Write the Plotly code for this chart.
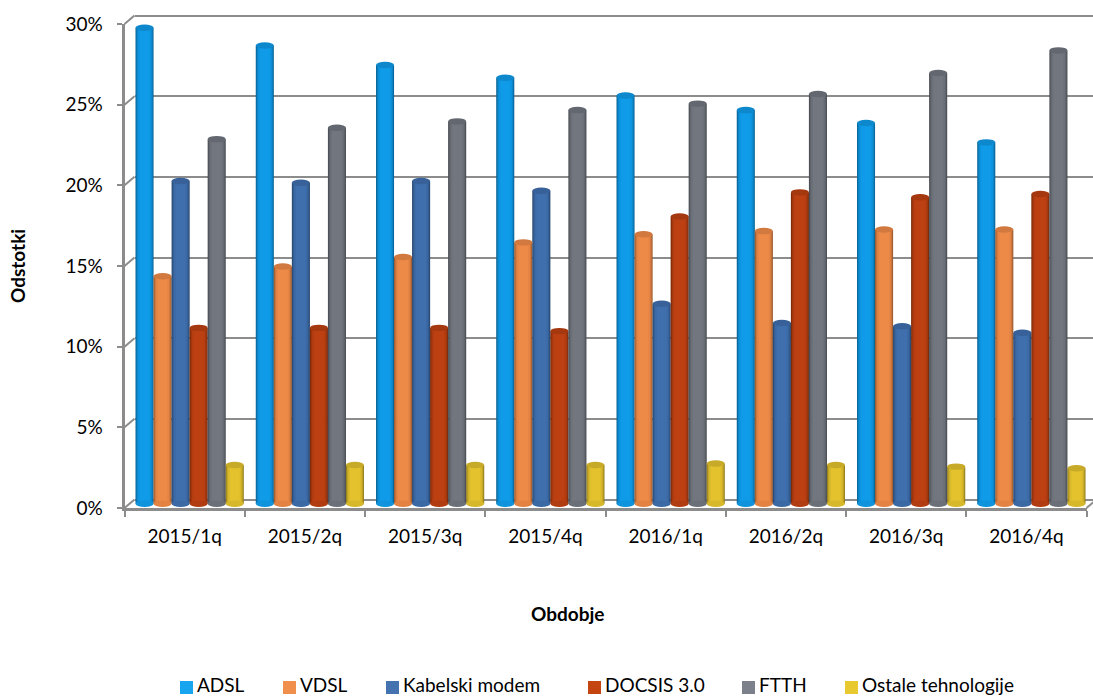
import plotly.graph_objects as go

W, H = 1093, 697
categories = ["2015/1q", "2015/2q", "2015/3q", "2015/4q", "2016/1q", "2016/2q", "2016/3q", "2016/4q"]
series_names = ["ADSL", "VDSL", "Kabelski modem", "DOCSIS 3.0", "FTTH", "Ostale tehnologije"]
adsl = [29.5, 28.4, 27.2, 26.4, 25.3, 24.4, 23.6, 22.4]
vdsl = [14.1, 14.7, 15.3, 16.2, 16.7, 16.9, 17.0, 17.0]
kabel = [20.0, 19.9, 20.0, 19.4, 12.4, 11.2, 11.0, 10.6]
docsis = [10.9, 10.9, 10.9, 10.7, 17.8, 19.3, 19.0, 19.2]
ftth = [22.6, 23.3, 23.7, 24.4, 24.8, 25.4, 26.7, 28.1]
ostale = [2.4, 2.4, 2.4, 2.4, 2.5, 2.4, 2.3, 2.2]
series_values = [adsl, vdsl, kabel, docsis, ftth, ostale]
colors = ["#0F9BE8", "#EE8A48", "#3F6FAD", "#BC4012", "#71767F", "#E3C22E"]
legend_colors = ["#17A5EF", "#F08E4C", "#4473B0", "#C4450F", "#7B808A", "#E8C92F"]
legend_x = [180, 283, 386, 588, 742, 845]
y_ticks = [0, 5, 10, 15, 20, 25, 30]
y_labels = ["0%", "5%", "10%", "15%", "20%", "25%", "30%"]

FONT = "Lato"
FS = 19
GRID = "#8C8C8C"

# geometry in pixels
L, R, T, B = 124.5, 1086.5, 24, 508
DX, DY = 10, 8.5
PAD = 0.3  # range padding so the outer gridlines are drawn
PPU = (B - T) / 30


def hx(p):
    return p / W


def vy(p):
    return 1 - p / H


def shade(c, f):
    r, g, b = int(c[1:3], 16), int(c[3:5], 16), int(c[5:7], 16)
    return "rgb(%d,%d,%d)" % (r * f, g * f, b * f)


fig = go.Figure()
w = 0.15
layers = [(1.0, 0.62), (0.94, 0.75), (0.86, 0.87), (0.74, 0.96), (0.55, 1.0)]
shapes = []
annotations = []

# back wall axes (x/y) carry the gridlines, bars use x2/y2, front axes x3/y3
fig.add_trace(go.Scatter(x=[0], y=[0], xaxis="x", yaxis="y", mode="markers",
                         marker=dict(opacity=0), showlegend=False, hoverinfo="skip"))

for j, (name, vals, col) in enumerate(zip(series_names, series_values, colors)):
    for lw, f in layers:
        fig.add_trace(go.Bar(
            x=categories, y=vals, name=name, xaxis="x2", yaxis="y2",
            width=w * lw, offset=(j - 3) * w + w * (1 - lw) / 2,
            marker=dict(color=shade(col, f), line=dict(width=0)),
            showlegend=False,
        ))
    for i, v in enumerate(vals):
        cx = i + (j - 2.5) * w
        for cy, fc in ((0, shade(col, 0.95)), (v, shade(col, 0.88))):
            shapes.append(dict(type="circle", xref="x2", yref="y2", layer="above",
                               x0=cx - w / 2, x1=cx + w / 2, y0=cy - 0.2, y1=cy + 0.2,
                               fillcolor=fc, line=dict(width=0)))

fig.add_trace(go.Scatter(x=categories, y=[0] * len(categories), xaxis="x3", yaxis="y3", mode="markers",
                         marker=dict(opacity=0), showlegend=False, hoverinfo="skip"))

# axis-to-wall diagonals
for t in y_ticks:
    py = B - (B - T) * t / 30
    shapes.append(dict(type="line", xref="paper", yref="paper", layer="below",
                       x0=hx(L), x1=hx(L + DX), y0=vy(py), y1=vy(py - DY),
                       line=dict(color=GRID, width=2)))
shapes.append(dict(type="line", xref="paper", yref="paper", layer="below",
                   x0=hx(R), x1=hx(R + DX), y0=vy(B), y1=vy(B - DY),
                   line=dict(color=GRID, width=2)))

# legend
for name, c, x in zip(series_names, legend_colors, legend_x):
    shapes.append(dict(type="rect", xref="paper", yref="paper",
                       x0=hx(x), x1=hx(x + 13), y0=vy(694), y1=vy(681),
                       fillcolor=c, line=dict(width=0)))
    annotations.append(dict(text=name, xref="paper", yref="paper", x=hx(x + 15), y=vy(684.5),
                            xanchor="left", yanchor="middle", showarrow=False,
                            font=dict(family=FONT, size=FS, color="black")))

annotations.append(dict(text="<b>Obdobje</b>", xref="paper", yref="paper", x=hx(567), y=vy(613),
                        xanchor="center", yanchor="middle",
                        showarrow=False, font=dict(family=FONT, size=19, color="black")))
annotations.append(dict(text="<b>Odstotki</b>", xref="paper", yref="paper", x=hx(17), y=vy(266),
                        xanchor="center", yanchor="middle",
                        textangle=-90, showarrow=False, font=dict(family=FONT, size=19, color="black")))

base_cat = dict(type="category", categoryorder="array", categoryarray=categories, range=[-0.5, 7.5],
                automargin=False)
tf = dict(family=FONT, size=FS, color="black")
fig.update_layout(
    width=W, height=H, autosize=False, margin=dict(l=0, r=0, t=0, b=0),
    paper_bgcolor="white", plot_bgcolor="rgba(0,0,0,0)",
    barmode="overlay", showlegend=False, shapes=shapes, annotations=annotations,
    font=dict(family=FONT, size=FS, color="black"),
    xaxis=dict(domain=[hx(L + DX), 1], range=[0, 1], anchor="y", visible=False, automargin=False),
    yaxis=dict(domain=[vy(B - DY + PAD * PPU), vy(T - DY - PAD * PPU)], range=[-PAD, 30 + PAD],
               tickvals=y_ticks, anchor="x", showticklabels=False, ticks="", showgrid=True,
               gridcolor=GRID, gridwidth=2, zeroline=False, showline=False, automargin=False),
    xaxis2=dict(**base_cat, domain=[hx(L + DX / 2), hx(R + DX / 2)], anchor="y2", visible=False),
    yaxis2=dict(domain=[vy(B - DY / 2 + PAD * PPU), vy(T - DY / 2 - PAD * PPU)], range=[-PAD, 30 + PAD],
                anchor="x2", visible=False, automargin=False),
    xaxis3=dict(**base_cat, domain=[hx(L), hx(R)], anchor="y3", tickson="boundaries", ticks="outside",
                ticklen=6, tickwidth=2, tickcolor=GRID, showline=True, linewidth=3, linecolor=GRID,
                showgrid=False, ticklabelstandoff=9, tickfont=tf),
    yaxis3=dict(domain=[vy(B), vy(T)], range=[0, 30], tickvals=y_ticks, ticktext=y_labels, anchor="x3",
                ticks="outside", ticklen=5, tickwidth=2, tickcolor=GRID, showline=True, linewidth=3,
                linecolor=GRID, showgrid=False, zeroline=False, ticklabelstandoff=10, tickfont=tf,
                automargin=False),
)
fig.write_html("out.html", post_script="document.body.style.margin='0';",
               config=dict(displayModeBar=False))
